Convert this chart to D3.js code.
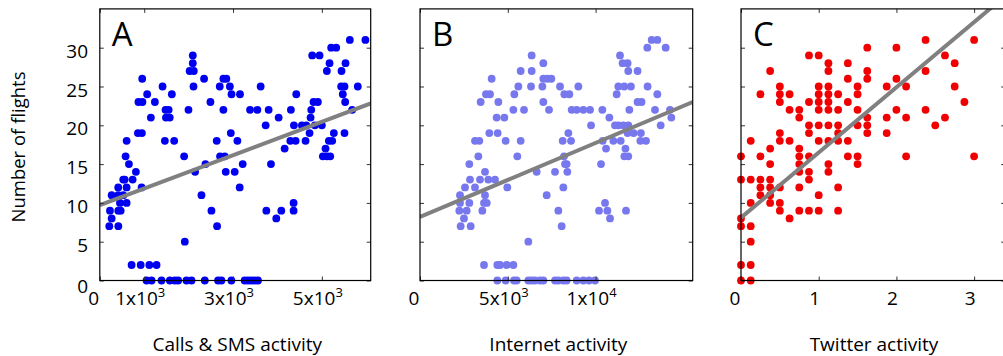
<!DOCTYPE html>
<html>
<head>
<meta charset="utf-8">
<script src="https://cdn.jsdelivr.net/npm/d3@7"></script>
<style>
  body { margin: 0; background: #fff; }
  svg text { font-family: "Open Sans", sans-serif; fill: #000; }
</style>
</head>
<body>
<svg id="chart" width="1003" height="356"></svg>
<script>
// number of flights vs activity
const flightTicks = [0, 5, 10, 15, 20, 25, 30];

const callsTicks = [0, 1000, 3000, 5000];
const callsTickLabels = ["0", "1x10^3", "3x10^3", "5x10^3"];
const callsFit = [9.7, 0.00215]; // intercept, slope
const callsData = [
  [955,26],[604,18],[581,16],[656,15],[813,14],[858,19],[948,19],[870,23],[960,23],[1067,24],
  [1150,21],[1240,23],[1413,25],[1622,24],[1480,22],[1550,22],[1490,21],[1575,21],[1465,18],[1675,18],
  [1899,16],[1997,22],[2094,29],[2094,28],[2023,27],[2117,27],[2110,25],[2348,26],[2491,23],[2146,14],
  [2379,15],[2633,18],[2708,16],[2813,16],[2701,25],[2783,26],[2850,26],[2929,25],[2966,24],[2783,22],
  [2950,19],[3098,18],[2836,14],[3038,14],[3218,15],[3157,24],[3622,25],[3383,22],[3548,22],[3802,22],
  [3735,20],[4027,21],[3854,15],[4162,17],[4303,22],[4424,24],[4371,20],[4290,18],[4410,18],[4633,18],
  [4550,20],[4650,20],[4723,19],[4746,21],[4761,22],[4813,23],[4910,23],[4843,20],[5000,20],[4783,29],
  [4948,29],[5023,16],[5113,16],[5188,16],[5083,17],[5158,18],[5233,18],[5270,19],[5113,27],[5173,28],
  [5210,30],[5323,30],[5443,27],[5435,25],[5510,25],[5472,24],[5525,23],[5533,28],[5510,19],[5630,31],
  [5981,31],[5809,25],[5683,22],
  [528,13],[739,13],[560,13],[415,12],[604,12],[941,12],[267,11],[528,11],[415,11],[454,10],
  [604,10],[229,9],[417,9],[469,9],[267,8],[214,7],[417,7],
  [716,2],[921,2],[1115,2],[1278,2],[2289,11],[2514,9],[2641,7],[1914,5],[3150,12],[3750,9],
  [3974,8],[4087,9],[4364,10],[4364,9],
  [1053,0],[1166,0],[1390,0],[1577,0],[1690,0],[1764,0],[1952,0],[2065,0],[2364,0],[2663,0],
  [2739,0],[2963,0],[3262,0],[3337,0],[3413,0],[3487,0],[3562,0]
];

const internetTicks = [0, 5000, 10000];
const internetTickLabels = ["0", "5x10^3", "1x10^4"];
const internetFit = [8.2, 0.000953];
const internetData = [
  [13195,31],[13516,31],[12946,30],[13990,30],[6360,29],[11390,29],[7024,28],[11537,28],[11822,28],
  [5733,27],[6360,27],[11860,27],[12390,27],[4081,26],[7024,26],[7252,26],[7480,26],
  [3758,24],[3986,24],[5600,25],[6322,25],[6968,25],[7974,25],[9018,25],[11295,25],[11632,25],
  [12011,25],[12960,25],[5373,24],[8220,24],[8505,24],[11200,24],[13516,24],
  [3455,23],[4461,23],[7024,23],[12390,23],[12618,23],
  [5316,22],[5923,22],[7347,22],[8638,22],[8923,22],[9303,22],[9683,22],[10385,22],[11922,22],
  [13383,22],[14237,22],[4366,21],[4803,21],[10784,21],[14313,21],
  [9740,20],[11105,20],[11295,20],[11580,20],[11865,20],[13705,20],
  [3948,19],[4422,19],[8448,19],[11822,19],[12162,19],[12580,19],
  [3132,18],[3379,18],[4878,18],[5733,18],[8125,18],[8600,18],[10404,18],[11010,18],[11428,18],
  [12550,18],[12870,18],[10594,17],[11700,17],
  [3322,16],[5543,16],[8201,16],[11637,16],[11860,16],
  [2809,15],[8258,15],[8353,15],[10309,15],
  [3702,14],[6645,14],[7689,14],[8391,14],
  [2847,13],[3417,13],[3891,13],[4271,13],
  [2562,12],[3132,12],[4972,12],[8163,12],
  [2278,11],[3702,11],[7214,11],
  [2278,10],[2809,10],[3645,10],[3800,10],[10537,10],
  [2240,9],[2658,9],[3550,9],[7879,9],[10195,9],[10670,9],[11732,9],
  [2505,8],[10822,8],[2315,7],[2885,7],[8068,7],[6170,5],
  [3645,2],[4404,2],[4556,2],[4936,2],[5316,2],
  [4404,0],[4879,0],[5353,0],[5505,0],[6170,0],[6360,0],[6550,0],[6835,0],[7024,0],[7689,0],
  [7879,0],[8163,0],[8353,0],[8923,0],[9303,0],[9626,0],[9968,0]
];

const twitterTicks = [0, 1, 2, 3];
const twitterTickLabels = ["0", "1", "2", "3"];
const twitterFit = [8.1, 8.4];
const twitterData = [
  [1.625,30],[2,30],[2.375,31],[3,31],[0.875,29],[1,29],[1.125,28],[1.375,28],[2.625,29],[2.75,28],
  [0.375,27],[1.125,27],[1.625,27],[2.375,27],[1.375,26],[1.625,26],[2,26],
  [0.5,25],[1,25],[1.125,25],[1.5,25],[1.875,25],[2.125,25],[2.75,25],
  [0.25,24],[0.5,24],[0.625,24],[1,24],[1.125,24],[1.25,24],[1.5,24],
  [0.5,23],[0.875,23],[1,23],[1.125,23],[1.375,23],[2.875,23],
  [0.625,22],[0.75,22],[1,22],[1.125,22],[1.25,22],[1.5,22],[2,22],[2.375,22],
  [0.75,21],[1.625,21],[1.875,21],[2.125,21],[2.625,21],
  [0.875,20],[1,20],[1.125,20],[1.25,20],[1.5,20],[1.625,20],[2.5,20],
  [0.5,19],[0.875,19],[1.25,19],[1.625,19],[1.875,19],
  [0.125,18],[0.5,18],[0.625,18],[1,18],[1.125,18],[1.25,18],[1.375,18],
  [0.375,17],[0.75,17],
  [0,16],[0.25,16],[0.75,16],[0.875,16],[1.375,16],[1.5,16],[2.125,16],[3,16],
  [0.375,15],[0.75,15],[1.125,15],[1.5,15],
  [0.75,14],[0.875,14],[1.125,14],
  [0,13],[0.125,13],[0.25,13],[0.375,13],[0.875,13],
  [0.25,12],[0.375,12],[0.5,12],[0.75,12],[1.25,12],
  [0.25,11],[0.375,11],[1,11],
  [0.125,10],[0.375,10],[0.5,10],
  [0.5,9],[0.75,9],[0.875,9],[1,9],[1.25,9],
  [0,8],[0.625,8],[0,7],[0.125,7],[0.125,5],
  [0,2],[0.125,2],[0,0],[0.125,0]
];

const svg = d3.select("#chart");
const yScale = d3.scaleLinear().domain([0, 35]).range([280.5, 8.9]);

function drawPanel(p) {
  const xScale = d3.scaleLinear().domain(p.domain).range(p.range);
  const g = svg.append("g");
  const x0 = p.range[0], x1 = p.range[1], yTop = yScale(35), yBot = yScale(0);

  svg.append("clipPath").attr("id", "clip" + p.letter)
    .append("rect")
    .attr("x", x0).attr("y", yTop)
    .attr("width", x1 - x0).attr("height", yBot - yTop);

  // dots
  g.append("g")
    .selectAll("circle")
    .data(p.data)
    .join("circle")
    .attr("cx", d => xScale(d[0]))
    .attr("cy", d => yScale(d[1]))
    .attr("r", 3.9)
    .attr("fill", p.color);

  // fitted line
  g.append("line")
    .attr("clip-path", "url(#clip" + p.letter + ")")
    .attr("x1", xScale(p.domain[0]))
    .attr("y1", yScale(p.fit[0] + p.fit[1] * p.domain[0]))
    .attr("x2", xScale(p.domain[1]))
    .attr("y2", yScale(p.fit[0] + p.fit[1] * p.domain[1]))
    .attr("stroke", "#808080")
    .attr("stroke-width", 4);

  // inward ticks on all four sides
  const ticksOnly = (ax) => ax.tickSize(-4).tickFormat("");
  g.append("g").attr("transform", `translate(0,${yBot})`).call(ticksOnly(d3.axisBottom(xScale).tickValues(p.ticks)));
  g.append("g").attr("transform", `translate(0,${yTop})`).call(ticksOnly(d3.axisTop(xScale).tickValues(p.ticks)));
  g.append("g").attr("transform", `translate(${x0},0)`).call(ticksOnly(d3.axisLeft(yScale).tickValues(flightTicks)));
  g.append("g").attr("transform", `translate(${x1},0)`).call(ticksOnly(d3.axisRight(yScale).tickValues(flightTicks)));
  g.selectAll(".domain").remove();
  g.selectAll(".tick line").attr("stroke", "#333");

  g.append("rect")
    .attr("x", x0).attr("y", yTop)
    .attr("width", x1 - x0).attr("height", yBot - yTop)
    .attr("fill", "none").attr("stroke", "#000").attr("stroke-width", 1.2);

  // x tick labels with superscripts
  g.append("g")
    .selectAll("text")
    .data(p.ticks)
    .join("text")
    .attr("x", (d, i) => xScale(d) - (i === 0 ? 6 : 4))
    .attr("y", 305)
    .attr("text-anchor", "middle")
    .style("font-size", "19px")
    .each(function (d, i) {
      const parts = p.labels[i].split("^");
      const t = d3.select(this);
      t.append("tspan").text(parts[0]);
      if (parts[1]) t.append("tspan").attr("dy", -8).style("font-size", "13px").text(parts[1]);
    });

  g.append("text")
    .attr("x", (x0 + Math.min(x1, 1003)) / 2 + 2)
    .attr("y", 351)
    .attr("text-anchor", "middle")
    .style("font-size", "19px")
    .text(p.title);

  g.append("text")
    .attr("x", x0 + 12)
    .attr("y", yTop + 37)
    .style("font-size", "33px")
    .text(p.letter);
}

drawPanel({ letter: "A", domain: [0, 6100], range: [99.8, 370.7], data: callsData, color: "#0000f0",
  fit: callsFit, ticks: callsTicks, labels: callsTickLabels, title: "Calls & SMS activity" });
drawPanel({ letter: "B", domain: [0, 15530], range: [420, 692.7], data: internetData, color: "#7878ee",
  fit: internetFit, ticks: internetTicks, labels: internetTickLabels, title: "Internet activity" });
drawPanel({ letter: "C", domain: [0, 3.4], range: [741, 1005.2], data: twitterData, color: "#f00000",
  fit: twitterFit, ticks: twitterTicks, labels: twitterTickLabels, title: "Twitter activity" });

// y axis labels (panel A only)
svg.append("g")
  .selectAll("text")
  .data(flightTicks)
  .join("text")
  .attr("x", 88)
  .attr("y", d => yScale(d) + (d === 0 ? 12 : 10))
  .attr("text-anchor", "end")
  .style("font-size", "19px")
  .text(d => d);

svg.append("text")
  .attr("transform", "translate(25,147) rotate(-90)")
  .attr("text-anchor", "middle")
  .style("font-size", "18.5px")
  .text("Number of flights");
</script>
</body>
</html>
